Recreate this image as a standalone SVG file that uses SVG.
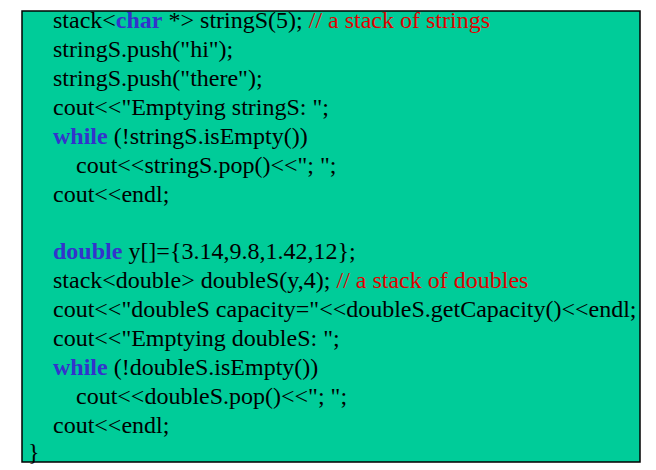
<svg xmlns="http://www.w3.org/2000/svg" width="656" height="470" viewBox="0 0 656 470">
<style>
.t{font-family:'Liberation Serif','Times New Roman',serif;font-size:24px;fill:#000}
.k{fill:#3333CC;font-weight:bold}
.c{fill:#E00000}
</style>
<rect width="656" height="470" fill="#fff"/>
<g id="box"><rect x="22" y="11" width="618" height="451" fill="#00CC99" stroke="#000" stroke-width="1.5"/></g>
<g id="code" class="t" font-family="Liberation Serif, serif" xml:space="preserve">
<text x="53" y="28">stack&lt;<tspan class="k">char</tspan> *&gt; stringS(5); <tspan class="c">// a stack of strings</tspan></text>
<text x="53" y="57">stringS.push("hi");</text>
<text x="53" y="86">stringS.push("there");</text>
<text x="53" y="115">cout&lt;&lt;"Emptying stringS: ";</text>
<text x="53" y="144"><tspan class="k">while</tspan> (!stringS.isEmpty())</text>
<text x="76" y="173">cout&lt;&lt;stringS.pop()&lt;&lt;"; ";</text>
<text x="53" y="202">cout&lt;&lt;endl;</text>
<text x="53" y="259"><tspan class="k">double</tspan> y[]={3.14,9.8,1.42,12};</text>
<text x="53" y="288">stack&lt;double&gt; doubleS(y,4);  <tspan class="c">// a stack of doubles</tspan></text>
<text x="53" y="317">cout&lt;&lt;"doubleS capacity="&lt;&lt;doubleS.getCapacity()&lt;&lt;endl;</text>
<text x="53" y="346">cout&lt;&lt;"Emptying doubleS: ";</text>
<text x="53" y="375"><tspan class="k">while</tspan> (!doubleS.isEmpty())</text>
<text x="76" y="404">cout&lt;&lt;doubleS.pop()&lt;&lt;"; ";</text>
<text x="53" y="433">cout&lt;&lt;endl;</text>
<text x="28" y="460">}</text>
</g>
</svg>
